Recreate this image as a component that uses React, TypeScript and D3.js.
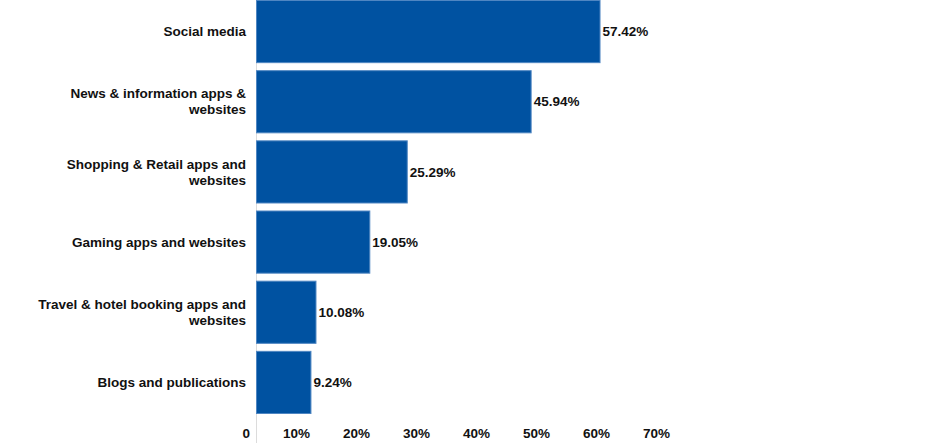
import React from "react";
import * as d3 from "d3";

const categories = [
  "Social media",
  "News & information apps & websites",
  "Shopping & Retail apps and websites",
  "Gaming apps and websites",
  "Travel & hotel booking apps and websites",
  "Blogs and publications",
];
const values = [57.42, 45.94, 25.29, 19.05, 10.08, 9.24];
const tickValues = [0, 10, 20, 30, 40, 50, 60, 70];

const W = 928;
const H = 447;
const FS = 13.5;

function wrap(text: string, maxW: number): string[] {
  const canvas = document.createElement("canvas");
  const ctx = canvas.getContext("2d")!;
  ctx.font = `bold ${FS}px 'Liberation Sans', Arial, sans-serif`;
  const words = text.split(" ");
  const lines: string[] = [];
  let cur = "";
  for (const w of words) {
    const t = cur ? cur + " " + w : w;
    if (ctx.measureText(t).width > maxW && cur) {
      lines.push(cur);
      cur = w;
    } else cur = t;
  }
  if (cur) lines.push(cur);
  return lines;
}

export default function App() {
  const x0 = 256;
  const x = d3.scaleLinear().domain([0, 70]).range([x0, x0 + 420]);
  const y = d3
    .scaleBand<string>()
    .domain(categories)
    .range([0, 414])
    .paddingInner(0.1)
    .paddingOuter(0);
  const bw = y.bandwidth();
  return (
    <svg
      width={W}
      height={H}
      style={{ position: "absolute", left: 0, top: 0, fontFamily: "Arial, 'Liberation Sans', sans-serif" }}
    >
      <line x1={x0 + 0.5} x2={x0 + 0.5} y1={0} y2={443} stroke="#dcdcdc" strokeWidth={1} />
      {categories.map((c, i) => {
        const yy = y(c)!;
        const lines = wrap(c, 228);
        const lh = 16;
        const cy = yy + bw / 2;
        const startY = cy - ((lines.length - 1) * lh) / 2;
        return (
          <g key={c}>
            <rect
              x={x(0) + 0.5}
              y={yy + 0.5}
              width={x(values[i]) - x(0) - 1}
              height={bw - 1}
              fill="#0052a1"
              stroke="#4f86c2"
              strokeWidth={1}
            />
            <text x={246} textAnchor="end" fontWeight="bold" fontSize={FS} fill="#111">
              {lines.map((l, k) => (
                <tspan key={k} x={246} y={startY + k * lh} dy="0.35em">
                  {l}
                </tspan>
              ))}
            </text>
            <text
              x={x(values[i]) + 2}
              y={cy}
              dy="0.35em"
              fontWeight="bold"
              fontSize={FS}
              fill="#111"
            >
              {values[i].toFixed(2) + "%"}
            </text>
          </g>
        );
      })}
      {tickValues.map((t) => (
        <text
          key={t}
          x={x(t) - 6}
          y={433}
          dy="0.35em"
          textAnchor="end"
          fontWeight="bold"
          fontSize={FS}
          fill="#111"
        >
          {t === 0 ? "0" : t + "%"}
        </text>
      ))}
    </svg>
  );
}
